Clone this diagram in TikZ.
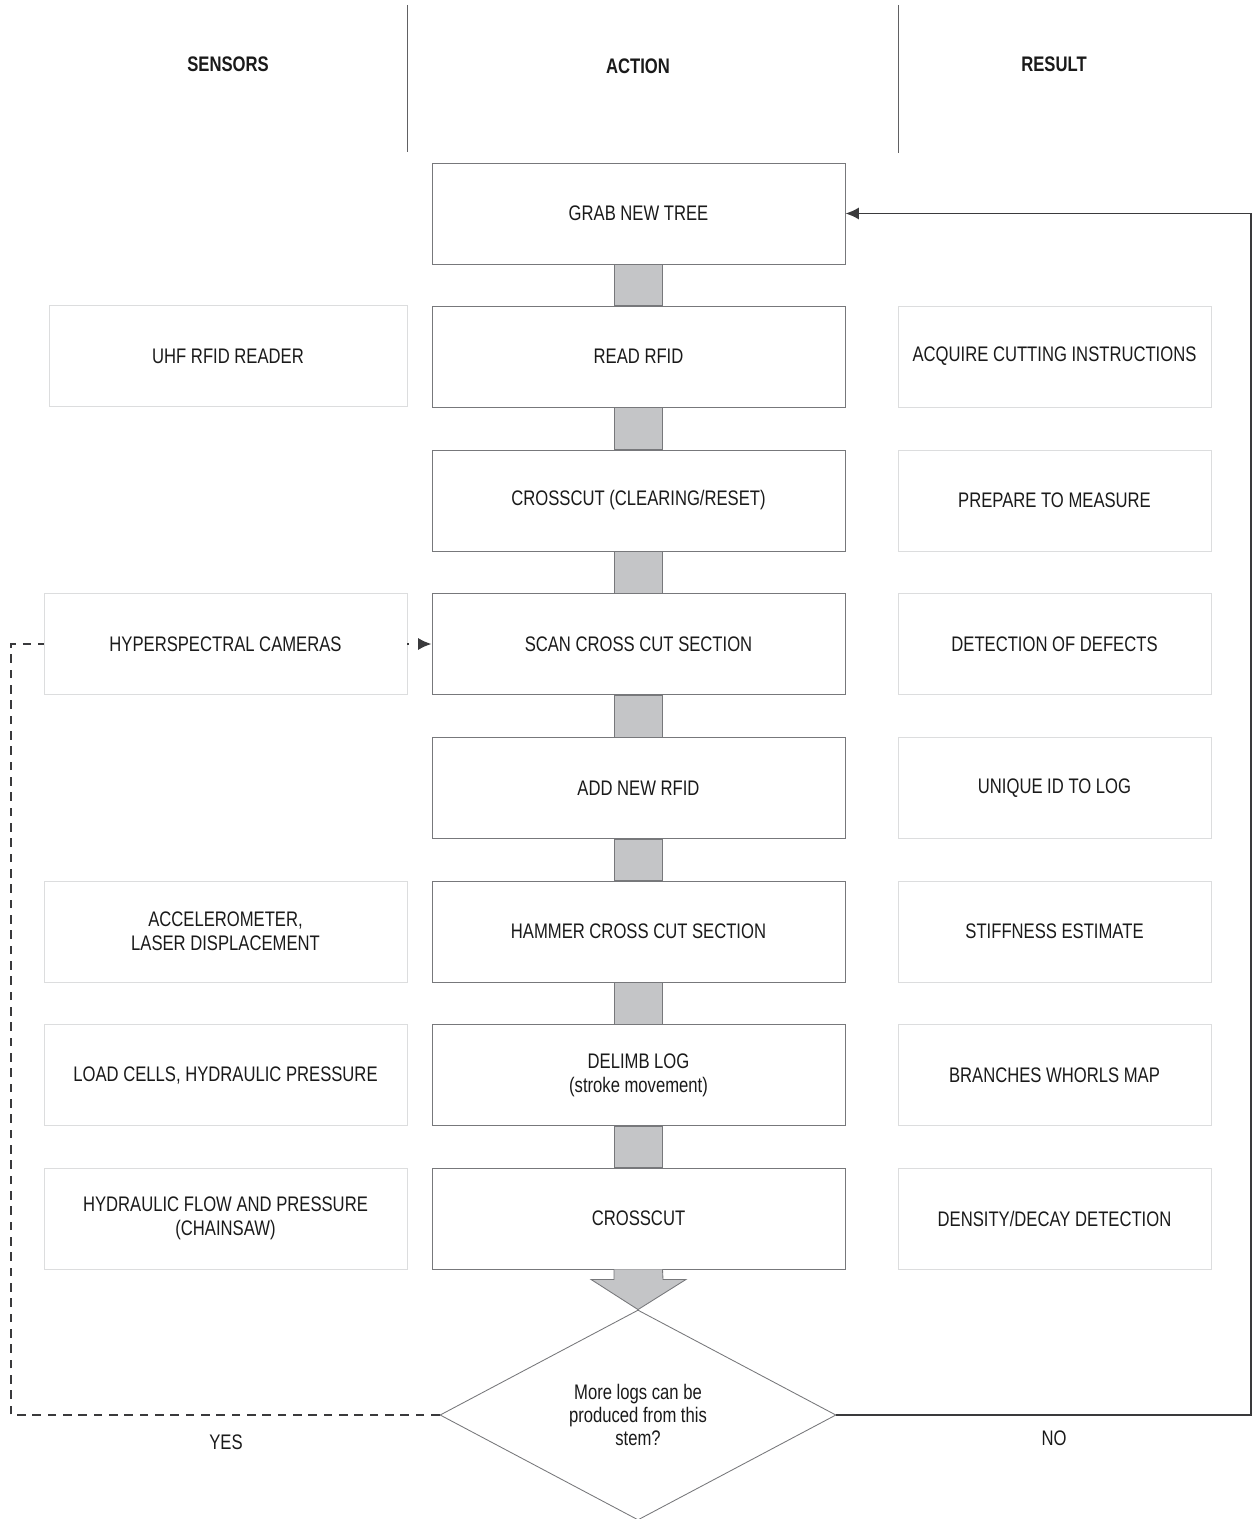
\documentclass[tikz,border=0pt]{standalone}
\usepackage{fontspec}
\setmainfont{Liberation Sans}[FakeStretch=0.79]
\usetikzlibrary{arrows.meta,shapes.geometric,calc}
\definecolor{txt}{HTML}{1A1A1A}
\definecolor{actb}{HTML}{77787B}
\definecolor{sideb}{HTML}{DCDDDE}
\definecolor{conn}{HTML}{C4C5C7}
\definecolor{linec}{HTML}{3A3A3C}
\begin{document}
\begin{tikzpicture}[x=0.75pt,y=-0.75pt,
  base/.style={text=txt, align=center, font=\fontsize{15.8}{18}\selectfont, inner sep=0pt},
  hdr/.style={base, font=\fontsize{15.8}{18}\selectfont\bfseries},
  actbox/.style={base, draw=actb, line width=0.65pt, minimum width=309.75pt, minimum height=75.75pt},
  leftbox/.style={base, draw=sideb, line width=0.7pt, minimum width=272.25pt, minimum height=75.75pt},
  rightbox/.style={base, draw=sideb, line width=0.7pt, minimum width=234.75pt, minimum height=75.75pt},
  connbar/.style={fill=conn, draw=actb, line width=0.65pt},
  sepline/.style={draw=linec!80, line width=0.7pt},
  loopline/.style={draw=linec, line width=1.4pt},
  dashline/.style={draw=linec, line width=1.4pt, dash pattern=on 6.5pt off 5pt},
  decision/.style={base, draw=actb, line width=0.65pt, shape=diamond, aspect=2, minimum width=297pt, minimum height=157.5pt, font=\fontsize{15.8}{17.25}\selectfont}
]
\useasboundingbox (0,0) rectangle (1252,1519);

% headers
\node[hdr] (hs) at (228,64) {SENSORS};
\node[hdr] (ha) at (638,66) {ACTION};
\node[hdr] (hr) at (1054,64) {RESULT};
\coordinate (s1t) at (407,5); \coordinate (s1b) at (407,152);
\coordinate (s2t) at (898,5); \coordinate (s2b) at (898,153);
\draw[sepline] (s1t) -- (s1b);
\draw[sepline] (s2t) -- (s2b);

% action column
\node[actbox] (a1) at (638.5,213.5) {GRAB NEW TREE};
\node[actbox] (a2) at (638.5,356.5) {READ RFID};
\node[actbox] (a3) at (638.5,500.5) {CROSSCUT (CLEARING/RESET)};
\node[actbox] (a4) at (638.5,644) {SCAN CROSS CUT SECTION};
\node[actbox] (a5) at (638.5,788) {ADD NEW RFID};
\node[actbox] (a6) at (638.5,931.5) {HAMMER CROSS CUT SECTION};
\node[actbox] (a7) at (638.5,1075) {DELIMB LOG\\(stroke movement)};
\node[actbox] (a8) at (638.5,1218.5) {CROSSCUT};

% sensors column
\node[leftbox, minimum width=268.5pt] (s2) at (228,356) {UHF RFID READER};
\node[leftbox] (s4) at (225.5,644) {HYPERSPECTRAL CAMERAS};
\node[leftbox] (s6) at (225.5,931.5) {ACCELEROMETER,\\LASER DISPLACEMENT};
\node[leftbox] (s7) at (225.5,1075) {LOAD CELLS, HYDRAULIC PRESSURE};
\node[leftbox] (s8) at (225.5,1218.5) {HYDRAULIC FLOW AND PRESSURE\\(CHAINSAW)};

% result column
\node[rightbox] (r2) at (1054.5,356.5) {ACQUIRE CUTTING INSTRUCTIONS};
\node[rightbox] (r3) at (1054.5,500.5) {PREPARE TO MEASURE};
\node[rightbox] (r4) at (1054.5,644) {DETECTION OF DEFECTS};
\node[rightbox] (r5) at (1054.5,788) {UNIQUE ID TO LOG};
\node[rightbox] (r6) at (1054.5,931.5) {STIFFNESS ESTIMATE};
\node[rightbox] (r7) at (1054.5,1075) {BRANCHES WHORLS MAP};
\node[rightbox] (r8) at (1054.5,1218.5) {DENSITY/DECAY DETECTION};

% connector bars
\foreach \u/\v in {a1/a2,a2/a3,a3/a4,a4/a5,a5/a6,a6/a7,a7/a8}{
  \draw[connbar] ($(\u.south)+(-24.5,0)$) rectangle ($(\v.north)+(24,0)$);
}

% decision
\node[decision] (dec) at (638,1415) {More logs can be\\produced from this\\stem?};

% final block arrow
\draw[connbar] ($(a8.south)+(-24.5,0)$) -- ++(0,10) -- ++(-23,0) -- (dec.north) -- ($(a8.south)+(47.5,10)$) -- ++(-23,0) -- ($(a8.south)+(24,0)$);

% NO loop
\coordinate (nr) at (1251,1415);
\draw[loopline, -{Latex[length=10pt,width=9pt]}] (dec.east) -- (nr) |- (a1.east);
\node[base] (no) at (1054,1438) {NO};

% YES loop (dashed)
\coordinate (yl) at (11,1415);
\draw[dashline] (dec.west) -- (yl) |- (s4.west);
\draw[dashline, dash pattern=on 1.5pt off 7pt, -{Latex[length=10pt,width=9pt]}] (s4.east) -- (a4.west);
\node[base] (yes) at (226,1442) {YES};
\end{tikzpicture}
\end{document}
